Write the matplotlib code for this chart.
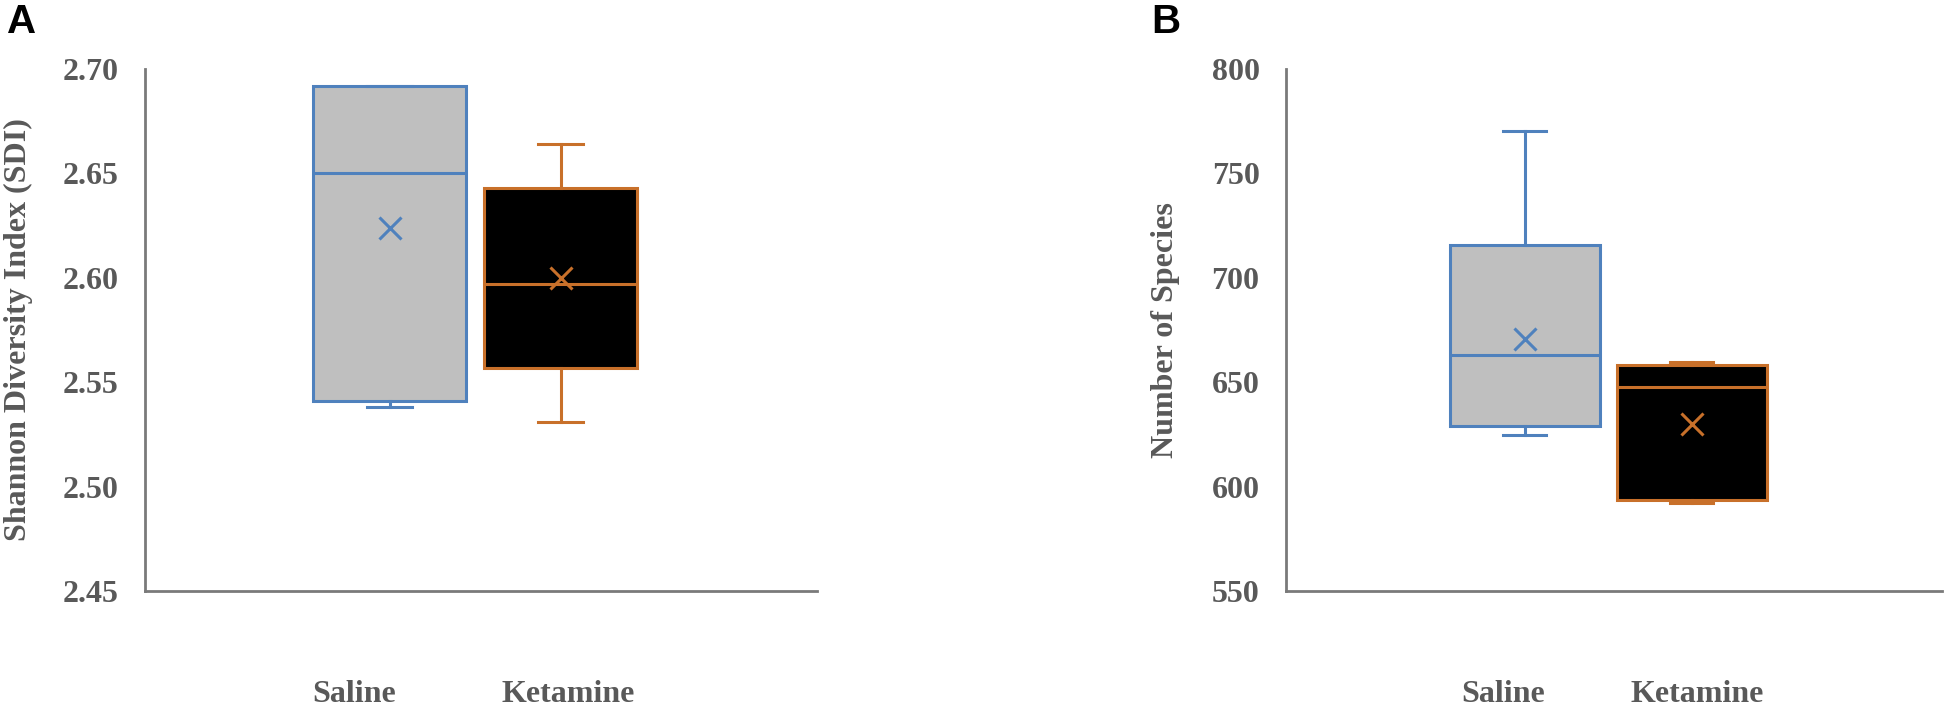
import matplotlib
matplotlib.use('Agg')
import matplotlib.pyplot as plt

# data ---------------------------------------------------------------
groups = ['Saline', 'Ketamine']

# panel A : Shannon diversity index
sdi_q1 = [2.541, 2.557]
sdi_med = [2.650, 2.597]
sdi_q3 = [2.692, 2.643]
sdi_lo = [2.538, 2.531]
sdi_hi = [2.692, 2.664]
sdi_mean = [2.624, 2.600]

# panel B : number of species
sp_q1 = [628.8, 593.6]
sp_med = [662.8, 647.5]
sp_q3 = [715.9, 658.2]
sp_lo = [624.5, 592.0]
sp_hi = [770.4, 659.5]
sp_mean = [670.9, 630.0]

sdi_ticks = [2.45, 2.50, 2.55, 2.60, 2.65, 2.70]
sp_ticks = [550, 600, 650, 700, 750, 800]
# --------------------------------------------------------------------

W, H = 1946, 713
edge_cols = ['#4f81bd', '#c8702a']
face_cols = ['#bfbfbf', '#000000']
txt_col = '#595959'
serif = 'Liberation Serif'


def stats(q1, med, q3, lo, hi, mean):
    out = []
    for i in range(len(q1)):
        out.append(dict(q1=q1[i], med=med[i], q3=q3[i], whislo=lo[i],
                        whishi=hi[i], mean=mean[i], fliers=[]))
    return out


def panel(rect, st, ticks, fmt, ylabel, ylab_x, label_x, letter, letter_x):
    ax = fig.add_axes(rect)
    for i, s in enumerate(st):
        c = edge_cols[i]
        ax.bxp([s], positions=[i + 1], widths=0.9, capwidths=0.26,
               patch_artist=True, showmeans=True, showfliers=False,
               boxprops=dict(facecolor=face_cols[i], edgecolor=c, lw=2.2),
               medianprops=dict(color=c, lw=2.2),
               whiskerprops=dict(color=c, lw=2.2),
               capprops=dict(color=c, lw=2.2),
               meanprops=dict(marker='x', markeredgecolor=c, markersize=16,
                              markeredgewidth=2.2))
    ax.set_xlim(-0.43, 3.5)
    ax.set_ylim(ticks[0], ticks[-1])
    ax.set_yticks(ticks)
    ax.set_yticklabels([fmt.format(t) for t in ticks], fontfamily=serif,
                       fontweight='bold', fontsize=23, color=txt_col)
    ax.set_xticks([])
    ax.tick_params(axis='y', length=0, pad=19)
    for sp in ['top', 'right']:
        ax.spines[sp].set_visible(False)
    for sp in ['left', 'bottom']:
        ax.spines[sp].set_color('#7a7a7a')
        ax.spines[sp].set_linewidth(2.0)
    ax.patch.set_alpha(0)

    fig.text(ylab_x / W, 1 - 330 / H, ylabel, rotation=90, ha='center',
             va='center', fontfamily=serif, fontweight='bold', fontsize=23,
             color=txt_col)
    for g, x in zip(groups, label_x):
        fig.text(x / W, 1 - 695 / H, g, ha='center', va='center',
                 fontfamily=serif, fontweight='bold', fontsize=23,
                 color=txt_col)
    fig.text(letter_x / W, 1 - 22 / H, letter, ha='center', va='center',
             fontfamily='Liberation Sans', fontweight='bold', fontsize=29,
             color='black')
    return ax


fig = plt.figure(figsize=(W / 100, H / 100), dpi=100)

panel([145 / W, 1 - 591 / H, 672 / W, 522 / H],
      stats(sdi_q1, sdi_med, sdi_q3, sdi_lo, sdi_hi, sdi_mean),
      sdi_ticks, '{:.2f}', 'Shannon Diversity Index (SDI)', 18,
      [354, 568], 'A', 22)

panel([1286 / W, 1 - 591 / H, 656 / W, 522 / H],
      stats(sp_q1, sp_med, sp_q3, sp_lo, sp_hi, sp_mean),
      sp_ticks, '{:.0f}', 'Number of Species', 1165,
      [1503, 1697], 'B', 1166)

fig.savefig('out.png', dpi=100)
plt.close()
